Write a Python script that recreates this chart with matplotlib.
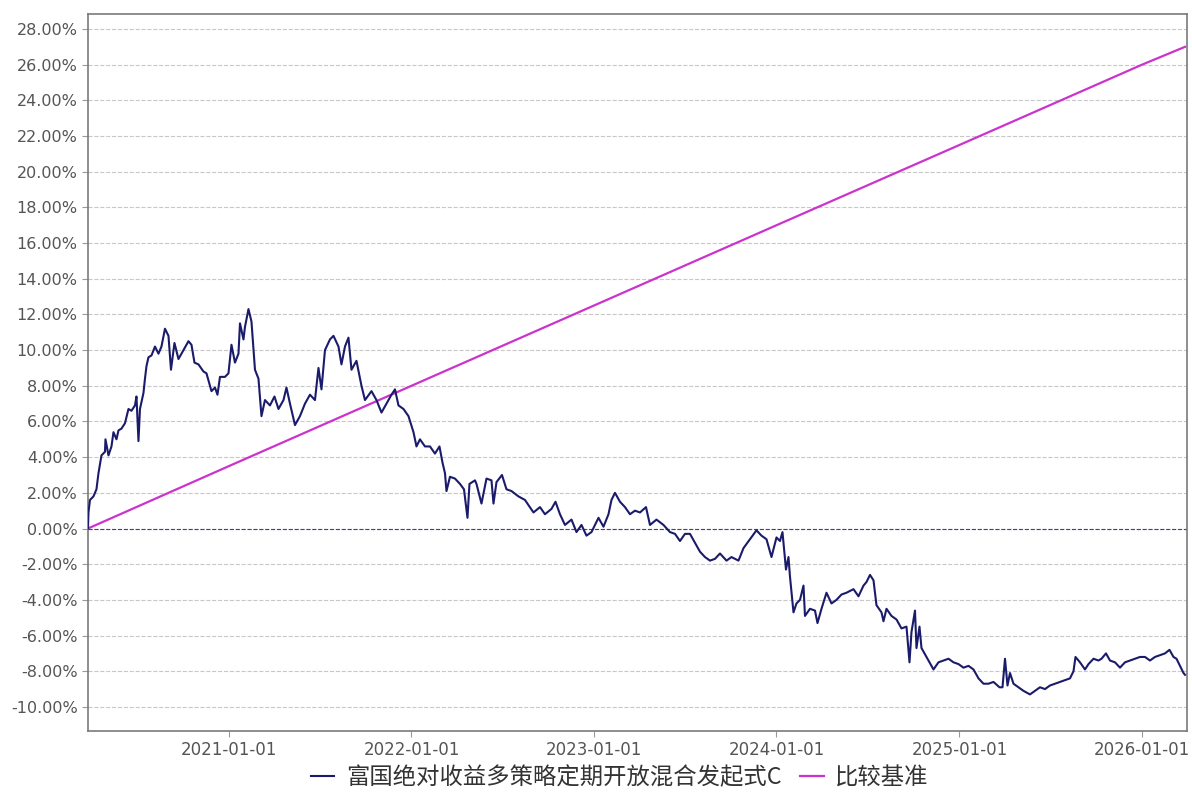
import pandas as pd
import matplotlib
matplotlib.use('Agg')
import matplotlib.pyplot as plt
import matplotlib.dates as mdates
from matplotlib.ticker import FuncFormatter, MultipleLocator

plt.rcParams['font.family'] = ['DejaVu Sans', 'Noto Sans CJK SC']

# 基金累计收益率 (%)
fund_dates = [
    '2020-03-25', '2020-03-26', '2020-03-29', '2020-04-05', '2020-04-11', '2020-04-15',
    '2020-04-21', '2020-04-28', '2020-04-29', '2020-05-05', '2020-05-11', '2020-05-15',
    '2020-05-21', '2020-05-25', '2020-05-31', '2020-06-07', '2020-06-14', '2020-06-20',
    '2020-06-27', '2020-06-30', '2020-07-04', '2020-07-07', '2020-07-14', '2020-07-17',
    '2020-07-20', '2020-07-24', '2020-07-30', '2020-08-06', '2020-08-13', '2020-08-19',
    '2020-08-26', '2020-09-02', '2020-09-07', '2020-09-14', '2020-09-22', '2020-10-02',
    '2020-10-12', '2020-10-18', '2020-10-24', '2020-11-01', '2020-11-11', '2020-11-17',
    '2020-11-27', '2020-12-04', '2020-12-09', '2020-12-14', '2020-12-24', '2020-12-31',
    '2021-01-06', '2021-01-13', '2021-01-20', '2021-01-23', '2021-01-30', '2021-02-02',
    '2021-02-09', '2021-02-15', '2021-02-22', '2021-03-01', '2021-03-07', '2021-03-14',
    '2021-03-24', '2021-04-02', '2021-04-10', '2021-04-20', '2021-04-26', '2021-05-03',
    '2021-05-13', '2021-05-23', '2021-06-02', '2021-06-12', '2021-06-22', '2021-06-29',
    '2021-07-05', '2021-07-12', '2021-07-22', '2021-07-29', '2021-08-08', '2021-08-14',
    '2021-08-21', '2021-08-28', '2021-09-03', '2021-09-13', '2021-09-23', '2021-09-30',
    '2021-10-13', '2021-10-23', '2021-11-02', '2021-11-12', '2021-11-22', '2021-11-29',
    '2021-12-06', '2021-12-16', '2021-12-26', '2022-01-05', '2022-01-11', '2022-01-18',
    '2022-01-28', '2022-02-07', '2022-02-17', '2022-02-26', '2022-03-04', '2022-03-09',
    '2022-03-12', '2022-03-19', '2022-03-29', '2022-04-08', '2022-04-16', '2022-04-23',
    '2022-04-27', '2022-05-08', '2022-05-11', '2022-05-21', '2022-05-31', '2022-06-10',
    '2022-06-14', '2022-06-20', '2022-07-01', '2022-07-10', '2022-07-20', '2022-08-03',
    '2022-08-16', '2022-09-02', '2022-09-15', '2022-09-25', '2022-10-08', '2022-10-16',
    '2022-10-25', '2022-11-04', '2022-11-17', '2022-11-27', '2022-12-07', '2022-12-17',
    '2022-12-27', '2023-01-10', '2023-01-20', '2023-01-30', '2023-02-05', '2023-02-12',
    '2023-02-22', '2023-03-04', '2023-03-14', '2023-03-24', '2023-04-03', '2023-04-15',
    '2023-04-23', '2023-05-06', '2023-05-20', '2023-06-02', '2023-06-12', '2023-06-22',
    '2023-07-02', '2023-07-12', '2023-07-22', '2023-08-01', '2023-08-11', '2023-08-21',
    '2023-08-31', '2023-09-10', '2023-09-23', '2023-10-03', '2023-10-17', '2023-10-27',
    '2023-11-09', '2023-11-22', '2023-12-02', '2023-12-12', '2023-12-22', '2024-01-01',
    '2024-01-08', '2024-01-13', '2024-01-20', '2024-01-25', '2024-01-28', '2024-02-04',
    '2024-02-10', '2024-02-17', '2024-02-24', '2024-02-27', '2024-03-08', '2024-03-18',
    '2024-03-23', '2024-03-31', '2024-04-10', '2024-04-20', '2024-04-30', '2024-05-10',
    '2024-05-20', '2024-06-03', '2024-06-13', '2024-06-23', '2024-06-29', '2024-07-06',
    '2024-07-13', '2024-07-19', '2024-07-29', '2024-08-02', '2024-08-08', '2024-08-18',
    '2024-08-28', '2024-09-07', '2024-09-17', '2024-09-23', '2024-09-27', '2024-10-04',
    '2024-10-07', '2024-10-13', '2024-10-17', '2024-10-27', '2024-11-10', '2024-11-20',
    '2024-11-30', '2024-12-10', '2024-12-20', '2024-12-30', '2025-01-09', '2025-01-19',
    '2025-01-29', '2025-02-08', '2025-02-18', '2025-02-28', '2025-03-10', '2025-03-22',
    '2025-03-28', '2025-04-02', '2025-04-07', '2025-04-12', '2025-04-19', '2025-04-29',
    '2025-05-09', '2025-05-22', '2025-06-01', '2025-06-11', '2025-06-21', '2025-07-01',
    '2025-07-11', '2025-07-21', '2025-07-31', '2025-08-10', '2025-08-17', '2025-08-21',
    '2025-08-30', '2025-09-09', '2025-09-16', '2025-09-26', '2025-10-06', '2025-10-12',
    '2025-10-21', '2025-10-29', '2025-11-08', '2025-11-18', '2025-11-28', '2025-12-08',
    '2025-12-18', '2025-12-28', '2026-01-07', '2026-01-17', '2026-01-27', '2026-02-06',
    '2026-02-16', '2026-02-25', '2026-03-05', '2026-03-11', '2026-03-18', '2026-03-25',
    '2026-03-28',
]
fund_values = [
    0.0, 0.9, 1.6, 1.8, 2.2, 3.1,
    4.1, 4.3, 5.0, 4.1, 4.6, 5.4,
    5.0, 5.5, 5.6, 5.9, 6.7, 6.6,
    6.9, 7.4, 4.9, 6.7, 7.6, 8.4,
    9.1, 9.6, 9.7, 10.2, 9.8, 10.2,
    11.2, 10.8, 8.9, 10.4, 9.5, 10.0,
    10.5, 10.3, 9.3, 9.2, 8.8, 8.7,
    7.7, 7.9, 7.5, 8.5, 8.5, 8.7,
    10.3, 9.3, 9.8, 11.5, 10.6, 11.3,
    12.3, 11.6, 8.9, 8.4, 6.3, 7.2,
    6.9, 7.4, 6.7, 7.2, 7.9, 7.0,
    5.8, 6.3, 7.0, 7.5, 7.2, 9.0,
    7.8, 10.0, 10.6, 10.8, 10.2, 9.2,
    10.2, 10.7, 8.9, 9.4, 8.0, 7.2,
    7.7, 7.2, 6.5, 7.0, 7.5, 7.8,
    6.9, 6.7, 6.3, 5.4, 4.6, 5.0,
    4.6, 4.6, 4.2, 4.6, 3.7, 3.1,
    2.1, 2.9, 2.8, 2.5, 2.2, 0.6,
    2.5, 2.7, 2.5, 1.4, 2.8, 2.7,
    1.4, 2.6, 3.0, 2.2, 2.1, 1.8,
    1.6, 0.9, 1.2, 0.8, 1.1, 1.5,
    0.8, 0.2, 0.5, -0.2, 0.2, -0.4,
    -0.2, 0.6, 0.1, 0.8, 1.6, 2.0,
    1.5, 1.2, 0.8, 1.0, 0.9, 1.2,
    0.2, 0.5, 0.2, -0.2, -0.3, -0.7,
    -0.3, -0.3, -0.8, -1.3, -1.6, -1.8,
    -1.7, -1.4, -1.8, -1.6, -1.8, -1.1,
    -0.6, -0.1, -0.4, -0.6, -1.6, -0.5,
    -0.7, -0.2, -2.3, -1.6, -2.7, -4.7,
    -4.2, -4.0, -3.2, -4.9, -4.5, -4.6,
    -5.3, -4.5, -3.6, -4.2, -4.0, -3.7,
    -3.6, -3.4, -3.8, -3.2, -3.0, -2.6,
    -2.9, -4.3, -4.7, -5.2, -4.5, -4.9,
    -5.1, -5.6, -5.5, -7.5, -5.8, -4.6,
    -6.7, -5.5, -6.7, -7.2, -7.9, -7.5,
    -7.4, -7.3, -7.5, -7.6, -7.8, -7.7,
    -7.9, -8.4, -8.7, -8.7, -8.6, -8.9,
    -8.9, -7.3, -8.8, -8.1, -8.7, -8.9,
    -9.1, -9.3, -9.1, -8.9, -9.0, -8.8,
    -8.7, -8.6, -8.5, -8.4, -8.0, -7.2,
    -7.5, -7.9, -7.6, -7.3, -7.4, -7.3,
    -7.0, -7.4, -7.5, -7.8, -7.5, -7.4,
    -7.3, -7.2, -7.2, -7.4, -7.2, -7.1,
    -7.0, -6.8, -7.2, -7.3, -7.7, -8.1,
    -8.2,
]

# 比较基准 (%)
bench_dates = ['2020-03-25', '2021-01-01', '2022-01-01', '2023-01-01',
               '2024-01-01', '2025-01-01', '2026-01-01', '2026-03-28']
bench_values = [0.0, 3.5, 8.0, 12.5, 17.0, 21.5, 26.0, 27.0]

fund_label = '富国绝对收益多策略定期开放混合发起式C'
bench_label = '比较基准'
year_ticks = ['2021-01-01', '2022-01-01', '2023-01-01', '2024-01-01', '2025-01-01', '2026-01-01']

fd = pd.to_datetime(fund_dates)
bd = pd.to_datetime(bench_dates)

fig = plt.figure(figsize=(11.92, 8.01), dpi=100)
ax = fig.add_axes([0.0738, 0.0874, 0.922, 0.8951])

ax.plot(fd, fund_values, color='#1b1b6b', linewidth=1.5, label=fund_label, zorder=3)
ax.plot(bd, bench_values, color='#cc33cc', linewidth=1.6, label=bench_label, zorder=2.5)

ax.axhline(0, color='#3f3f95', linestyle='--', linewidth=0.8, zorder=2)

ax.set_xlim(pd.Timestamp('2020-03-25'), pd.Timestamp('2026-04-01'))
ax.set_ylim(-11.35, 28.84)
ax.yaxis.set_major_locator(MultipleLocator(2))
ax.yaxis.set_major_formatter(FuncFormatter(lambda v, p: f'{v:.2f}%'))
ax.set_xticks(pd.to_datetime(year_ticks))
ax.xaxis.set_major_formatter(mdates.DateFormatter('%Y-%m-%d'))

ax.grid(axis='y', color='#c8c8c8', linestyle='--', linewidth=0.8)
ax.grid(axis='x', visible=False)
for s in ax.spines.values():
    s.set_color('#7a7a7a')
    s.set_linewidth(1.2)

ax.tick_params(axis='both', colors='#9a9a9a', labelcolor='#555555', length=4)
ax.tick_params(axis='y', labelsize=11.5)
ax.tick_params(axis='x', labelsize=12, pad=3)

leg = fig.legend(loc='lower center', bbox_to_anchor=(0.52, -0.012), ncol=2, frameon=False,
                 handlelength=1.0, handletextpad=0.5, columnspacing=0.8,
                 prop={'family': ['Noto Sans CJK SC'], 'size': 16.8})
for t in leg.get_texts():
    t.set_color('#333333')

fig.savefig('out.png', dpi=100)
